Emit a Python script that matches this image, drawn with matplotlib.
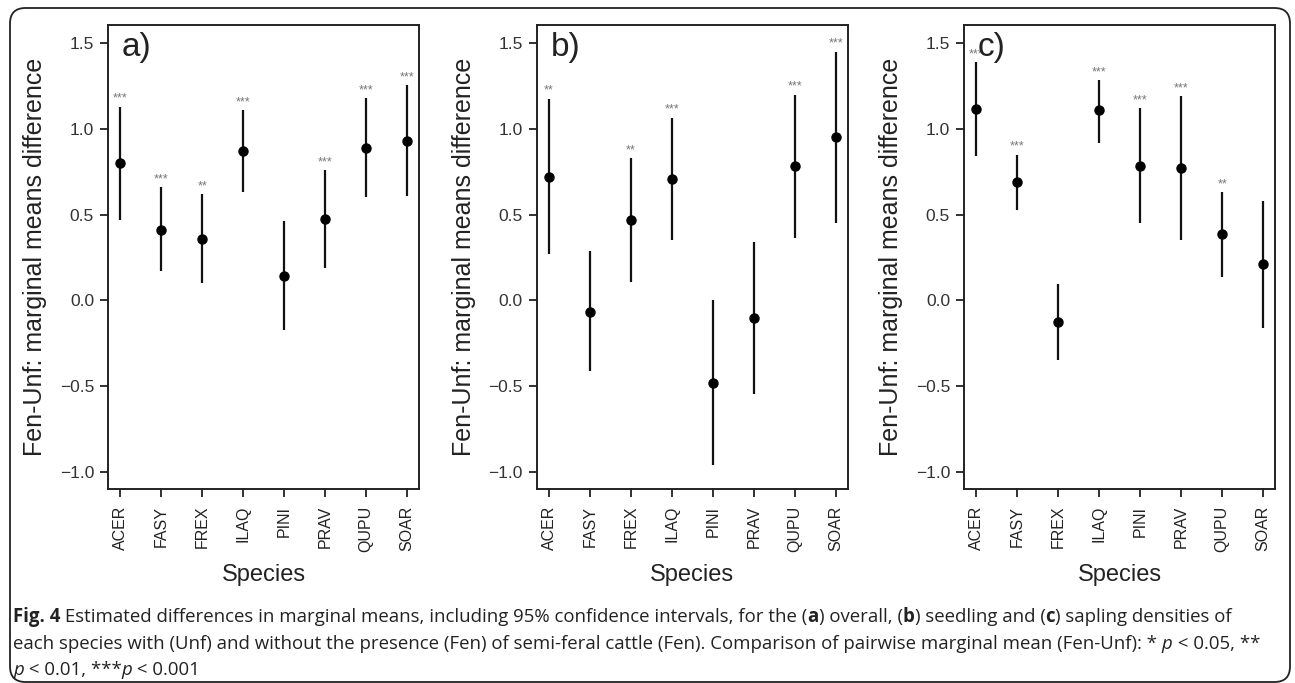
import matplotlib
matplotlib.use("Agg")
import matplotlib.pyplot as plt
from matplotlib.patches import FancyBboxPatch

species = ["ACER", "FASY", "FREX", "ILAQ", "PINI", "PRAV", "QUPU", "SOAR"]

# (a) overall
a_est = [0.80, 0.41, 0.36, 0.87, 0.145, 0.475, 0.89, 0.93]
a_low = [0.47, 0.17, 0.10, 0.63, -0.175, 0.19, 0.60, 0.61]
a_high = [1.13, 0.66, 0.62, 1.11, 0.465, 0.76, 1.18, 1.255]
a_sig = ["***", "***", "**", "***", "", "***", "***", "***"]

# (b) seedling
b_est = [0.72, -0.065, 0.47, 0.705, -0.48, -0.10, 0.785, 0.955]
b_low = [0.27, -0.41, 0.105, 0.35, -0.96, -0.545, 0.365, 0.45]
b_high = [1.175, 0.29, 0.83, 1.065, 0.0, 0.34, 1.20, 1.45]
b_sig = ["**", "", "**", "***", "", "", "***", "***"]

# (c) sapling
c_est = [1.115, 0.69, -0.125, 1.11, 0.785, 0.77, 0.385, 0.215]
c_low = [0.84, 0.525, -0.345, 0.92, 0.45, 0.355, 0.135, -0.16]
c_high = [1.39, 0.85, 0.095, 1.285, 1.12, 1.19, 0.63, 0.58]
c_sig = ["***", "***", "", "***", "***", "***", "**", ""]

panel_labels = ["a)", "b)", "c)"]
yticks = [-1.0, -0.5, 0.0, 0.5, 1.0, 1.5]

plt.rcParams['font.family'] = ['Liberation Sans', 'DejaVu Sans']

W, H = 1295, 683
fig = plt.figure(figsize=(W / 100, H / 100), dpi=100)

# rounded outer border
border = FancyBboxPatch((10 / W, 1 / H), (1290 - 10) / W, (675 - 1) / H,
                        boxstyle="round,pad=0,rounding_size=0.012",
                        transform=fig.transFigure, fill=False,
                        edgecolor="#222222", linewidth=1.3, zorder=0,
                        mutation_aspect=W / H)
fig.patches.append(border)

lefts = [108, 536.7, 964]
ax_w = 311
top_px, bot_px = 25, 489

data = [(a_est, a_low, a_high, a_sig),
        (b_est, b_low, b_high, b_sig),
        (c_est, c_low, c_high, c_sig)]

txtcol = "#222222"
for i, (est, lo, hi, sig) in enumerate(data):
    ax = fig.add_axes([lefts[i] / W, 1 - bot_px / H, ax_w / W, (bot_px - top_px) / H])
    x = list(range(1, len(species) + 1))
    ax.vlines(x, lo, hi, color="#111111", linewidth=1.6)
    ax.plot(x, est, "o", color="#000000", markersize=6.5)
    for xi, h, s in zip(x, hi, sig):
        if s:
            ax.annotate(s, (xi, h), xytext=(0, 1.5), textcoords="offset points",
                        ha="center", va="bottom", fontsize=9, color="#777777")
    ax.set_xlim(0.7, 8.29)
    ax.set_ylim(-1.1, 1.606)
    ax.set_xticks(x)
    ax.set_xticklabels(species, rotation=90, fontsize=11.5, color=txtcol)
    ax.set_yticks(yticks)
    ax.set_yticklabels([("\u22121.0" if v == -1.0 else "\u22120.5" if v == -0.5 else f"{v:.1f}") for v in yticks],
                       fontsize=12.5, color="#333333")
    ax.tick_params(axis="both", direction="out", length=6, width=1.3, color="#222222")
    ax.tick_params(axis="x", pad=6)
    ax.tick_params(axis="y", pad=4)
    for sp in ax.spines.values():
        sp.set_linewidth(1.4)
        sp.set_color("#222222")
    ax.set_xlabel("Species", fontsize=17, color=txtcol, labelpad=9)
    ax.set_ylabel("Fen-Unf: marginal means difference", fontsize=18, color=txtcol, labelpad=9)
    ax.text(0.045, 0.985, panel_labels[i], transform=ax.transAxes, ha="left", va="top",
            fontsize=24, color="#222222")

# caption built from sequential pieces
cap_font = ['Open Sans', 'DejaVu Sans']
renderer = fig.canvas.get_renderer()


def put_line(y_px, pieces, size=13.4):
    x = 13.0
    for txt, weight, style in pieces:
        t = fig.text(x / W, 1 - y_px / H, txt, fontsize=size, family=cap_font,
                     weight=weight, style=style, color="#222222", va="center", ha="left")
        bb = t.get_window_extent(renderer)
        x += bb.width


N, B, I = "normal", "bold", "italic"
line1 = [("Fig. 4", B, N), (" Estimated differences in marginal means, including 95% confidence intervals, for the (", N, N),
         ("a", B, N), (") overall, (", N, N), ("b", B, N), (") seedling and (", N, N), ("c", B, N),
         (") sapling densities of", N, N)]
line2 = [("each species with (Unf) and without the presence (Fen) of semi-feral cattle (Fen). "
          "Comparison of pairwise marginal mean (Fen-Unf): * ", N, N), ("p", N, I), (" < 0.05, **", N, N)]
line3 = [("p", N, I), (" < 0.01, ***", N, N), ("p", N, I), (" < 0.001", N, N)]
put_line(617, line1)
put_line(644, line2)
put_line(670, line3)

fig.savefig("out.png", dpi=100)
